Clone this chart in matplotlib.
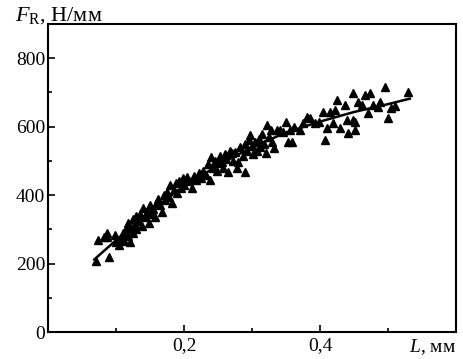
import numpy as np
import matplotlib
matplotlib.use("Agg")
import matplotlib.pyplot as plt
from matplotlib.ticker import MultipleLocator, FixedLocator

plt.rcParams['font.family'] = ['Liberation Serif', 'DejaVu Serif']
plt.rcParams['mathtext.fontset'] = 'custom'
plt.rcParams['mathtext.rm'] = 'Liberation Serif'
plt.rcParams['mathtext.it'] = 'Liberation Serif:italic'

# measured points, L (mm) and F_R (N/mm)
L_pts = [0.070, 0.074, 0.082, 0.087, 0.090, 0.087, 0.098, 0.100, 0.103, 0.105,
         0.108, 0.110, 0.112, 0.115, 0.117, 0.118, 0.120, 0.122, 0.125, 0.125,
         0.128, 0.130, 0.130, 0.133, 0.135, 0.138, 0.140, 0.142, 0.145, 0.148,
         0.150, 0.152, 0.155, 0.158, 0.160, 0.162, 0.165, 0.168, 0.170, 0.172,
         0.175, 0.178, 0.180, 0.182, 0.185, 0.188, 0.190, 0.192, 0.195, 0.198,
         0.200, 0.204, 0.208, 0.212, 0.215, 0.218, 0.222, 0.225, 0.228, 0.232,
         0.235, 0.238, 0.240, 0.243, 0.245, 0.248, 0.250, 0.253, 0.256, 0.258,
         0.260, 0.262, 0.265, 0.268, 0.270, 0.272, 0.275, 0.278, 0.280,
         0.283, 0.286, 0.289, 0.290, 0.292, 0.295, 0.297, 0.300, 0.302, 0.305,
         0.307, 0.310, 0.312, 0.315, 0.318, 0.320, 0.322, 0.325, 0.328, 0.330,
         0.333, 0.336, 0.341, 0.345, 0.350, 0.353, 0.356, 0.359,
         0.362, 0.370, 0.375, 0.381, 0.385, 0.393, 0.398, 0.404, 0.407, 0.410,
         0.415, 0.419, 0.422, 0.425, 0.430, 0.441, 0.436, 0.440, 0.449, 0.449,
         0.451, 0.452, 0.456, 0.461, 0.466, 0.470, 0.474, 0.478, 0.485, 0.488,
         0.496, 0.500, 0.505, 0.510, 0.529]
F_pts = [208, 268, 278, 277, 218, 289, 283, 262, 270, 255,
         275, 290, 265, 300, 280, 320, 262, 305, 290, 330,
         315, 300, 340, 325, 345, 310, 362, 335, 350, 320,
         371, 345, 360, 335, 380, 390, 370, 350, 400, 385,
         410, 395, 429, 376, 415, 435, 405, 440, 420, 450,
         430, 453, 440, 420, 455, 445, 465, 450, 470, 460,
         490, 444, 511, 480, 500, 470, 495, 515, 496, 480,
         520, 505, 467, 530, 523, 500, 525, 479, 496,
         540, 515, 550, 467, 530, 560, 575, 545, 520, 555,
         530, 565, 540, 580, 550, 523, 604, 569, 590, 555,
         537, 590, 590, 584, 613, 555, 590, 555,
         600, 590, 612, 628, 625, 610, 615, 642, 561, 596,
         642, 610, 650, 677, 596, 581, 663, 620, 619, 698,
         613, 590, 672, 663, 692, 640, 698, 663, 657, 672,
         715, 625, 654, 660, 701]

# fitted curve
L_fit = [0.068, 0.10, 0.15, 0.20, 0.25, 0.30, 0.35, 0.40, 0.45, 0.50, 0.532]
F_fit = [212, 268, 352, 426, 487, 540, 583, 615, 643, 666, 682]

fig = plt.figure(figsize=(4.63, 3.59), dpi=100)
ax = fig.add_axes([0.1037, 0.0752, 0.8813, 0.8578])

ax.plot(L_fit, F_fit, color='black', lw=1.8, zorder=2)
ax.plot(L_pts, F_pts, linestyle='none', marker='^', color='black',
        markersize=6, zorder=3)

ax.set_xlim(0, 0.6)
ax.set_ylim(0, 900)

ax.xaxis.set_major_locator(FixedLocator([0.2, 0.4]))
ax.xaxis.set_minor_locator(FixedLocator([0.1, 0.3, 0.5]))
ax.set_xticklabels(['0,2', '0,4'])
ax.yaxis.set_major_locator(FixedLocator([0, 200, 400, 600, 800]))
ax.yaxis.set_minor_locator(FixedLocator([100, 300, 500, 700]))

ax.tick_params(which='both', direction='in', labelsize=14, width=1.2)
ax.tick_params(which='major', length=5)
ax.tick_params(which='minor', length=3)
ax.tick_params(axis='x', pad=4)
ax.tick_params(axis='y', pad=2)
for s in ax.spines.values():
    s.set_linewidth(1.5)

ax.text(1.0, -0.05, r'$L$, мм', transform=ax.transAxes, ha='right',
        va='center', fontsize=14)
fig.text(0.032, 0.958, r'$F_{\mathrm{R}}$, Н/мм', ha='left', va='center',
         fontsize=16)

fig.savefig('out.png', dpi=100)
